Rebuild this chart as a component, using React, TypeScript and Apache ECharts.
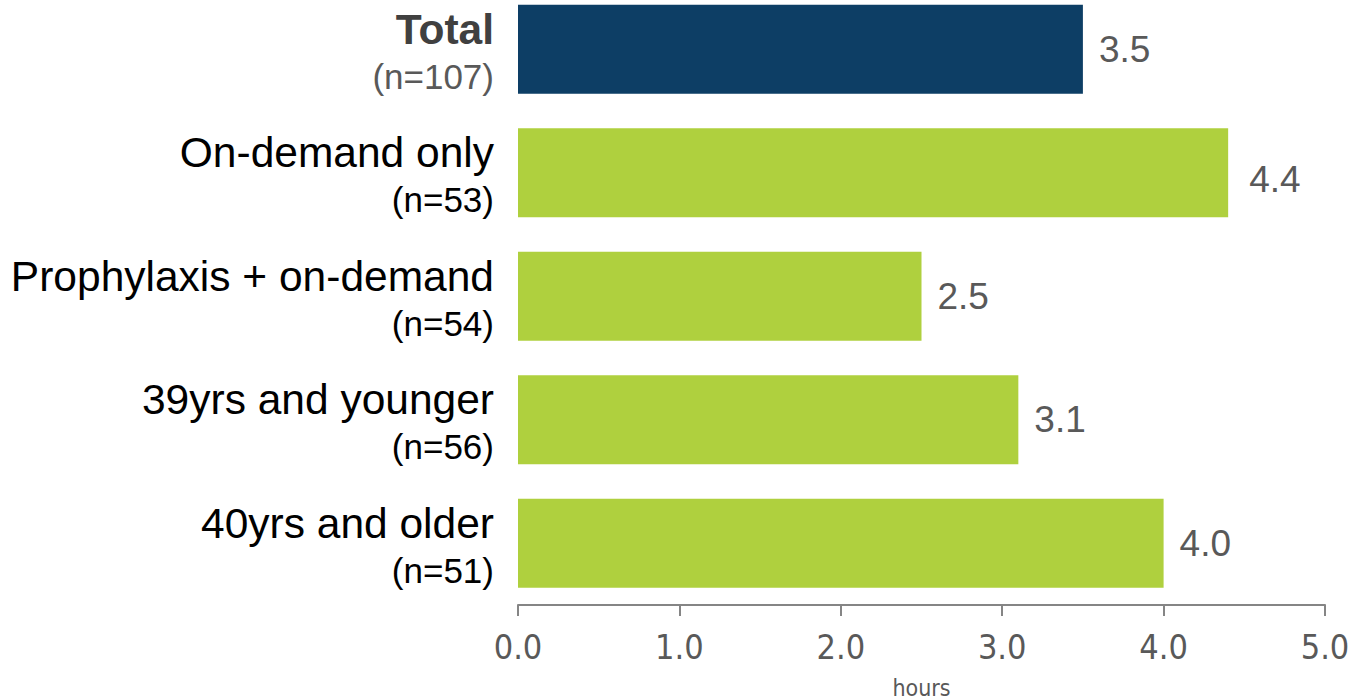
import React, { useEffect, useRef } from "react";
import * as echarts from "echarts";

const categories = ["Total", "On-demand only", "Prophylaxis + on-demand", "39yrs and younger", "40yrs and older"];
const sampleSizes = ["(n=107)", "(n=53)", "(n=54)", "(n=56)", "(n=51)"];
const values = [3.5, 4.4, 2.5, 3.1, 4.0];
const xTicks = [0, 1, 2, 3, 4, 5];

const NAVY = "#0d3e65";
const GREEN = "#afd03e";
const SANS = "Liberation Sans, Arial, sans-serif";
const NARROW = "Liberation Sans Narrow, Arial Narrow, DejaVu Sans Condensed, Liberation Sans, sans-serif";

export default function App() {
  const ref = useRef<HTMLDivElement>(null);
  useEffect(() => {
    if (!ref.current) return;
    const chart = echarts.init(ref.current, undefined, { renderer: "svg" });
    chart.setOption({
      animation: false,
      grid: { left: 518, right: 29, top: -12.5, bottom: 95, containLabel: false, outerBoundsMode: "none" },
      xAxis: {
        type: "value",
        min: xTicks[0],
        max: xTicks[xTicks.length - 1],
        interval: 1,
        splitLine: { show: false },
        axisLine: { show: true, lineStyle: { color: "#858585", width: 2 } },
        axisTick: { show: true, length: 11, lineStyle: { color: "#858585", width: 2 } },
        axisLabel: {
          formatter: (v: number) => v.toFixed(1),
          fontSize: 34,
          fontFamily: NARROW,
          color: "#595959",
          margin: 25,
        },
        name: "hours",
        nameLocation: "middle",
        nameGap: 71,
        nameTextStyle: { fontSize: 23, fontFamily: NARROW, color: "#595959" },
      },
      yAxis: {
        type: "category",
        inverse: true,
        data: categories,
        axisLine: { show: false },
        axisTick: { show: false },
        axisLabel: {
          margin: 24,
          align: "right",
          formatter: (v: string, i: number) =>
            i === 0 ? `{ta|${v}}\n{tb|${sampleSizes[i]}}` : `{a|${v}}\n{b|${sampleSizes[i]}}`,
          rich: {
            ta: { fontSize: 42.5, fontWeight: "bold", color: "#404040", fontFamily: SANS, lineHeight: 54, align: "right" },
            tb: { fontSize: 35, color: "#595959", fontFamily: SANS, lineHeight: 40, align: "right" },
            a: { fontSize: 42.5, color: "#000000", fontFamily: SANS, lineHeight: 54, align: "right" },
            b: { fontSize: 35, color: "#000000", fontFamily: SANS, lineHeight: 40, align: "right" },
          },
        },
      },
      series: [
        {
          type: "bar",
          data: values.map((v, i) => ({
            value: v,
            itemStyle: { color: i === 0 ? NAVY : GREEN },
            label: i === 1 ? { offset: [5, 7] } : undefined,
          })),
          barCategoryGap: "28%",
          label: {
            show: true,
            position: "right",
            distance: 16,
            formatter: (p: any) => Number(p.value).toFixed(1),
            fontSize: 37,
            fontFamily: SANS,
            color: "#595959",
          },
        },
      ],
    });
    return () => chart.dispose();
  }, []);
  return <div ref={ref} style={{ width: 1354, height: 700, position: "absolute", left: 0, top: 0 }} />;
}
